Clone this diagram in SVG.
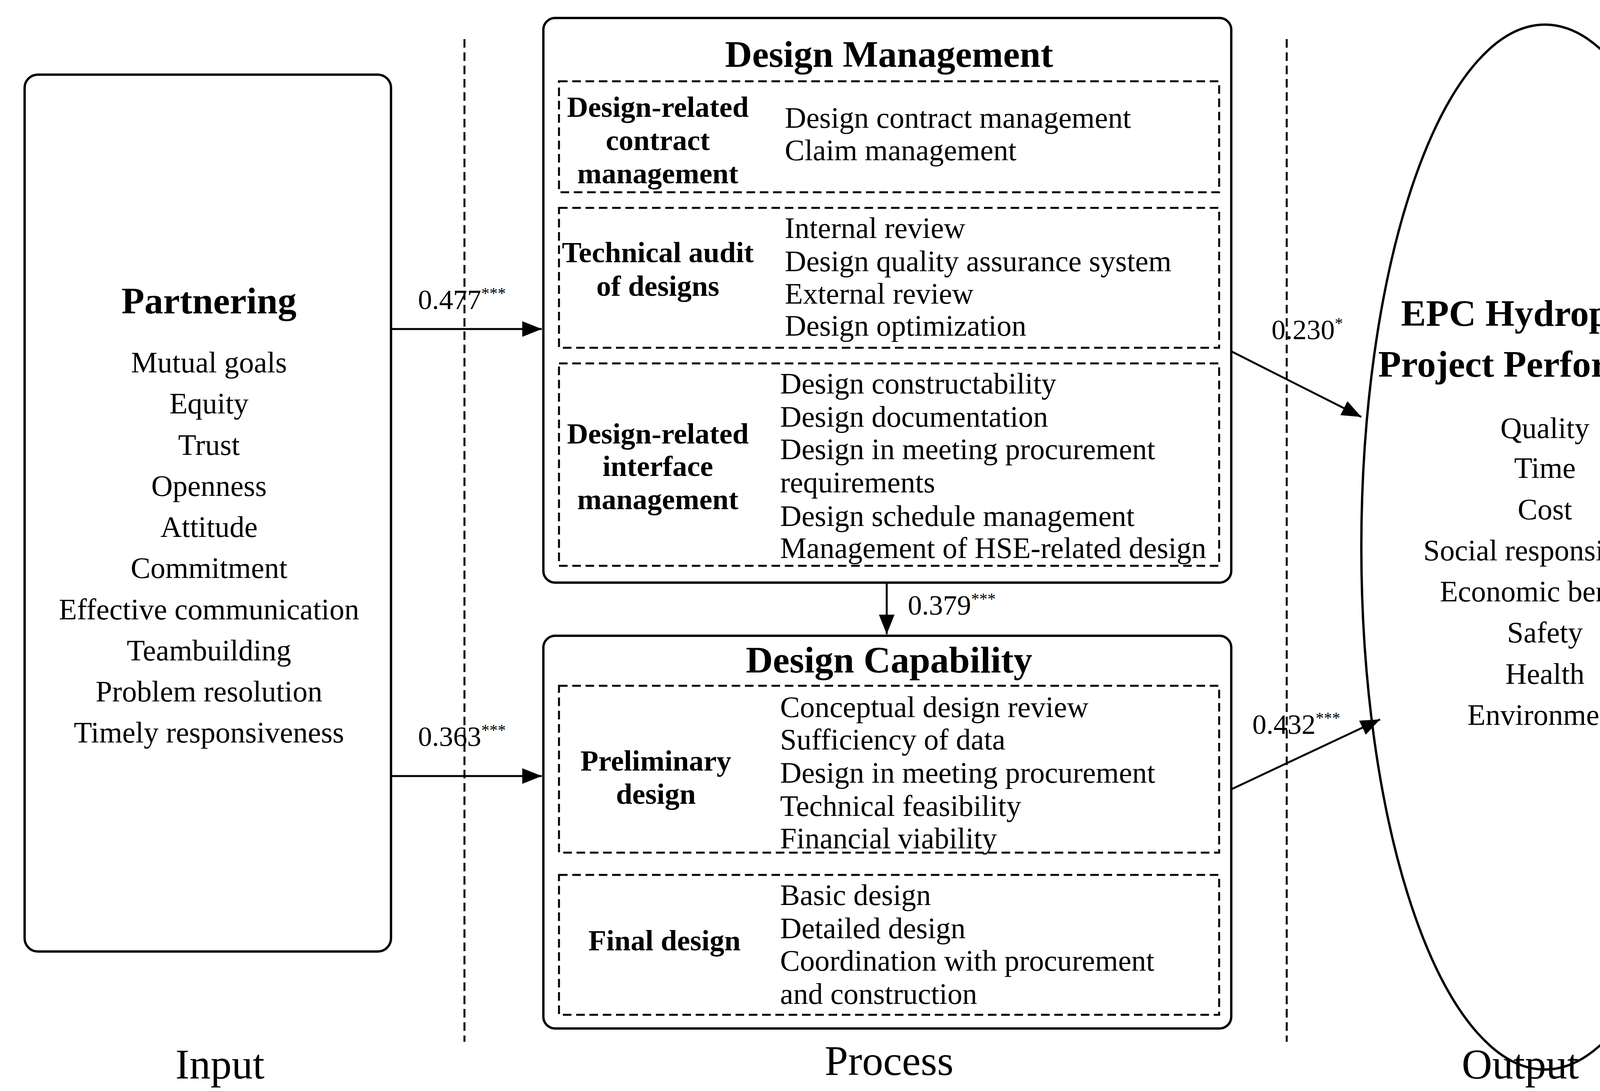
<svg xmlns="http://www.w3.org/2000/svg" width="4438" height="2792" viewBox="0 0 4438 2792">
<style>
text{font-family:"Liberation Serif","DejaVu Serif",serif;fill:#000}
.b{font-size:76px}
.c{text-anchor:middle}
.h{font-size:75px;font-weight:bold;text-anchor:middle}
.t{font-size:96px;font-weight:bold;text-anchor:middle}
.n{font-size:72px}
.s{font-size:42px}
.io{font-size:108px;text-anchor:middle}
.box{fill:#fff;stroke:#000;stroke-width:6}
.dash{fill:none;stroke:#000;stroke-width:5;stroke-dasharray:22 12}
.ln{stroke:#000;stroke-width:5;fill:none}
</style>
<defs><marker id="a" markerWidth="10" markerHeight="8" refX="10" refY="4" orient="auto" markerUnits="strokeWidth"><path d="M0,0L10,4L0,8z" fill="#000"/></marker></defs>
<rect width="4438" height="2792" fill="#fff"/>
<g id="dividers">
<line class="dash" x1="1189" y1="100" x2="1189" y2="2666"/>
<line class="dash" x1="3294" y1="100" x2="3294" y2="2666"/>
</g>
<g id="partnering">
<rect class="box" x="63" y="191" width="938" height="2244" rx="34"/>
<text class="t" x="535" y="802">Partnering</text>
<g class="b c">
<text x="535" y="953">Mutual goals</text><text x="535" y="1058">Equity</text><text x="535" y="1164">Trust</text><text x="535" y="1269">Openness</text><text x="535" y="1374">Attitude</text><text x="535" y="1479">Commitment</text><text x="535" y="1585">Effective communication</text><text x="535" y="1690">Teambuilding</text><text x="535" y="1795">Problem resolution</text><text x="535" y="1900">Timely responsiveness</text>
</g>
</g>
<g id="design-management">
<rect class="box" x="1391" y="46" width="1761" height="1445" rx="30"/>
<text class="t" x="2276" y="171">Design Management</text>
<rect class="dash" x="1431" y="208" width="1690" height="284"/>
<rect class="dash" x="1431" y="532" width="1690" height="358"/>
<rect class="dash" x="1431" y="930" width="1690" height="518"/>
<text class="h" x="1684" y="299">Design-related</text><text class="h" x="1684" y="384">contract</text><text class="h" x="1684" y="469">management</text>
<text class="b" x="2009" y="327">Design contract management</text><text class="b" x="2009" y="410">Claim management</text>
<text class="h" x="1684" y="671">Technical audit</text><text class="h" x="1684" y="757">of designs</text>
<text class="b" x="2009" y="609">Internal review</text><text class="b" x="2009" y="694">Design quality assurance system</text><text class="b" x="2009" y="777">External review</text><text class="b" x="2009" y="859">Design optimization</text>
<text class="h" x="1684" y="1135">Design-related</text><text class="h" x="1684" y="1218">interface</text><text class="h" x="1684" y="1303">management</text>
<text class="b" x="1997" y="1007">Design constructability</text><text class="b" x="1997" y="1092">Design documentation</text><text class="b" x="1997" y="1175">Design in meeting procurement</text><text class="b" x="1997" y="1260">requirements</text><text class="b" x="1997" y="1346">Design schedule management</text><text class="b" x="1997" y="1428">Management of HSE-related design</text>
</g>
<g id="design-capability">
<rect class="box" x="1391" y="1627" width="1761" height="1005" rx="30"/>
<text class="t" x="2276" y="1721">Design Capability</text>
<rect class="dash" x="1431" y="1755" width="1690" height="427"/>
<rect class="dash" x="1431" y="2239" width="1690" height="358"/>
<text class="h" x="1679" y="1972">Preliminary</text><text class="h" x="1679" y="2057">design</text>
<text class="b" x="1997" y="1835">Conceptual design review</text><text class="b" x="1997" y="1918">Sufficiency of data</text><text class="b" x="1997" y="2003">Design in meeting procurement</text><text class="b" x="1997" y="2088">Technical feasibility</text><text class="b" x="1997" y="2171">Financial viability</text>
<text class="h" x="1701" y="2432">Final design</text>
<text class="b" x="1997" y="2316">Basic design</text><text class="b" x="1997" y="2401">Detailed design</text><text class="b" x="1997" y="2484">Coordination with procurement</text><text class="b" x="1997" y="2569">and construction</text>
</g>
<g id="performance">
<ellipse class="box" cx="3955" cy="1400" rx="470" ry="1337"/>
<text class="t" x="3955" y="834">EPC Hydropower</text><text class="t" x="3955" y="964">Project Performance</text>
<g class="b c">
<text x="3955" y="1121">Quality</text><text x="3955" y="1223">Time</text><text x="3955" y="1329">Cost</text><text x="3955" y="1434">Social responsibility</text><text x="3955" y="1539">Economic benefit</text><text x="3955" y="1644">Safety</text><text x="3955" y="1750">Health</text><text x="3955" y="1855">Environment</text>
</g>
</g>
<g id="connectors">
<line class="ln" x1="1001" y1="842" x2="1387" y2="842" marker-end="url(#a)"/>
<line class="ln" x1="1001" y1="1986" x2="1387" y2="1986" marker-end="url(#a)"/>
<line class="ln" x1="2270" y1="1491" x2="2270" y2="1623" marker-end="url(#a)"/>
<line class="ln" x1="3152" y1="899" x2="3485" y2="1067" marker-end="url(#a)"/>
<line class="ln" x1="3152" y1="2020" x2="3533" y2="1841" marker-end="url(#a)"/>
<text class="n" x="1070" y="791">0.477<tspan class="s" dy="-26">***</tspan></text>
<text class="n" x="1070" y="1909">0.363<tspan class="s" dy="-26">***</tspan></text>
<text class="n" x="2324" y="1573">0.379<tspan class="s" dy="-26">***</tspan></text>
<text class="n" x="3255" y="868">0.230<tspan class="s" dy="-26">*</tspan></text>
<text class="n" x="3206" y="1878">0.432<tspan class="s" dy="-26">***</tspan></text>
</g>
<g id="labels">
<text class="io" x="563" y="2760">Input</text><text class="io" x="2276" y="2751">Process</text><text class="io" x="3892" y="2760">Output</text>
</g>
</svg>
